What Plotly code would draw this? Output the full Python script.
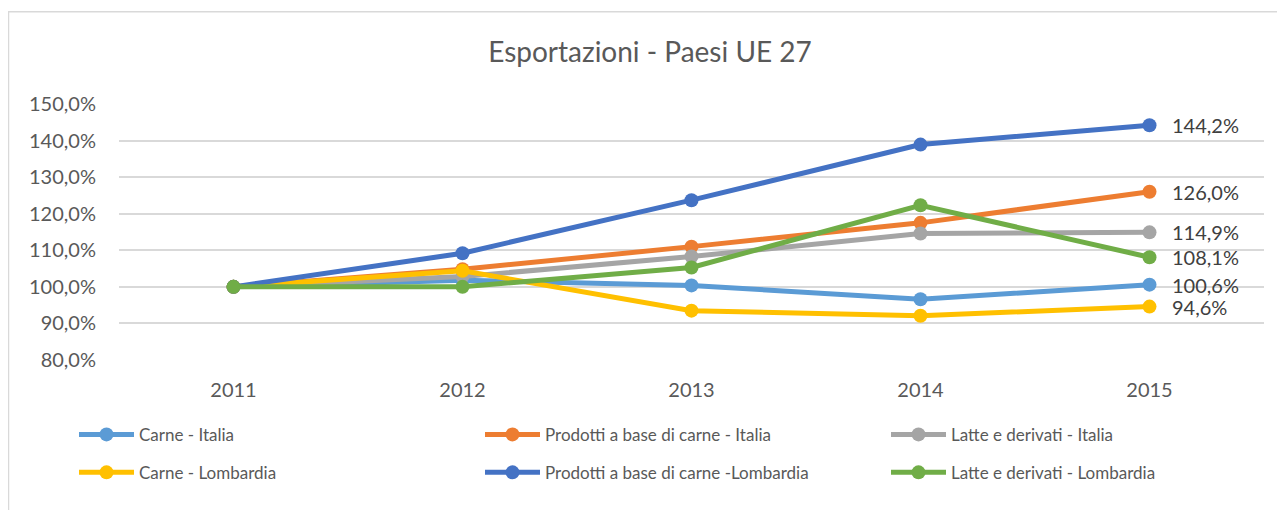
import plotly.graph_objects as go

years = ["2011", "2012", "2013", "2014", "2015"]

carne_italia = [100.0, 101.8, 100.4, 96.6, 100.6]
prodotti_italia = [100.0, 104.8, 111.0, 117.5, 126.0]
latte_italia = [100.0, 102.8, 108.3, 114.6, 114.9]
carne_lombardia = [100.0, 104.4, 93.5, 92.1, 94.6]
prodotti_lombardia = [100.0, 109.2, 123.7, 138.9, 144.2]
latte_lombardia = [100.0, 100.0, 105.3, 122.3, 108.1]

series = [
    ("Carne - Italia", carne_italia, "#5B9BD5", "legend"),
    ("Prodotti a base di carne - Italia", prodotti_italia, "#ED7D31", "legend"),
    ("Latte e derivati - Italia", latte_italia, "#A5A5A5", "legend"),
    ("Carne - Lombardia", carne_lombardia, "#FFC000", "legend2"),
    ("Prodotti a base di carne -Lombardia", prodotti_lombardia, "#4472C4", "legend2"),
    ("Latte e derivati - Lombardia", latte_lombardia, "#70AD47", "legend2"),
]

FONT = "Lato, 'Open Sans', sans-serif"

def fmt(v):
    return f"{v:.1f}%".replace(".", ",")

fig = go.Figure()
annotations = []
last_idx = len(years) - 1
for name, vals, color, leg in series:
    fig.add_trace(go.Scatter(
        x=years, y=vals, name=name, mode="lines+markers",
        line=dict(color=color, width=5),
        marker=dict(color=color, size=14),
        legend=leg, cliponaxis=False,
    ))
    annotations.append(dict(
        x=last_idx, y=vals[-1], xref="x", yref="y", text=fmt(vals[-1]),
        showarrow=False, xanchor="left", yanchor="middle", xshift=20,
        font=dict(family=FONT, size=20, color="#404040"),
    ))

# page is offset by 8px body margin -> work in figure coords (ref - 8)
W, H = 1277, 502
L, R, T, B = 111, 21, 95.5, 150
pw = W - L - R
ph = H - T - B

def px2paper_x(px):
    return (px - L) / pw

def py2paper_y(py):
    return (H - B - py) / ph

legend_common = dict(
    orientation="h", entrywidth=336, entrywidthmode="pixels",
    font=dict(family=FONT, size=17, color="#595959"),
    xanchor="left", yanchor="middle", bgcolor="rgba(0,0,0,0)",
    itemwidth=55, tracegroupgap=0,
)

fig.update_layout(
    width=W, height=H,
    margin=dict(l=L, r=R, t=T, b=B, autoexpand=False),
    paper_bgcolor="white", plot_bgcolor="white",
    separators=",.",
    title=dict(text="Esportazioni - Paesi UE 27", x=642 / W, xanchor="center",
               y=1 - 44 / H, yanchor="middle",
               font=dict(family=FONT, size=28, color="#595959")),
    xaxis=dict(type="category", range=[-0.5, 4.5], showgrid=False, showline=False,
               ticks="", zeroline=False, ticklabelstandoff=16,
               tickfont=dict(family=FONT, size=20, color="#595959")),
    yaxis=dict(range=[80, 150], dtick=10, tick0=80, tickformat=".1f", ticksuffix="%",
               showgrid=True, gridcolor="#D9D9D9", gridwidth=1.5, zeroline=False,
               showline=False, ticks="", ticklabelstandoff=22,
               tickfont=dict(family=FONT, size=20, color="#595959")),
    legend=dict(x=px2paper_x(66), y=py2paper_y(427), **legend_common),
    legend2=dict(x=px2paper_x(66), y=py2paper_y(465), **legend_common),
    annotations=annotations,
    shapes=[dict(type="rect", xref="paper", yref="paper",
                 x0=px2paper_x(0.5), x1=px2paper_x(1300),
                 y0=py2paper_y(520), y1=py2paper_y(3),
                 line=dict(color="#D9D9D9", width=1.5), layer="below")],
)

fig.write_html("out.html")
